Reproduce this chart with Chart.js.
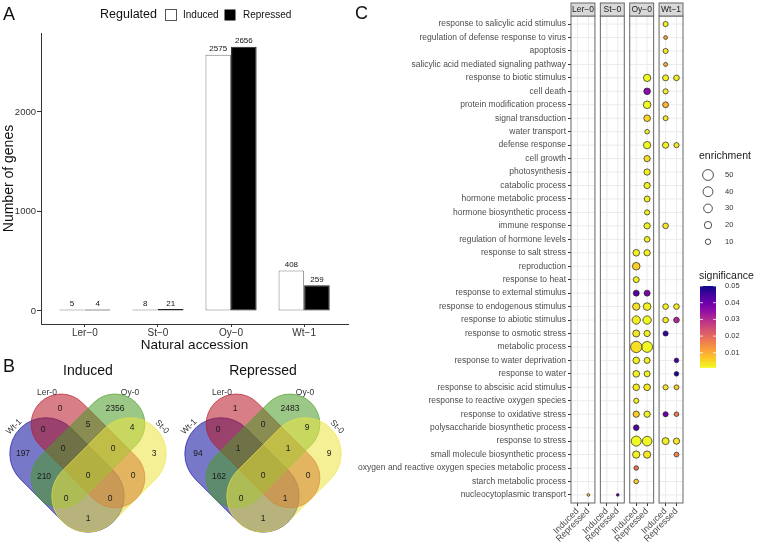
<!DOCTYPE html>
<html>
<head>
<meta charset="utf-8">
<script src="https://cdn.jsdelivr.net/npm/chart.js@4.4.1/dist/chart.umd.min.js"></script>
<style>
  body { margin: 0; background: #fff; }
  #page { position: relative; width: 757px; height: 542px; overflow: hidden; background: #fff; }
  canvas { position: absolute; }
  .tag { position: absolute; font: 18px/18px "Liberation Sans", Arial, sans-serif; color: #111; }
</style>
</head>
<body>
<div id="page">
  <canvas id="barChart" width="355" height="355" style="left:0px;top:0px"></canvas>
  <canvas id="vennInduced" width="176" height="187" style="left:0px;top:355px"></canvas>
  <canvas id="vennRepressed" width="176" height="187" style="left:175px;top:355px"></canvas>
  <canvas id="goChart" width="407" height="542" style="left:350px;top:0px"></canvas>
  <div class="tag" style="left:3px;top:5px">A</div>
  <div class="tag" style="left:3px;top:357px">B</div>
  <div class="tag" style="left:355px;top:4px">C</div>
</div>
<script>
// A: number of regulated genes
const accessions = ["Ler−0", "St−0", "Oy−0", "Wt−1"];
const inducedGenes = [5, 8, 2575, 408];
const repressedGenes = [4, 21, 2656, 259];
const geneTicks = [0, 1000, 2000];

// B: venn counts per region
const vennRegions = ["Ler-0", "Oy-0", "Ler-0∩Oy-0", "Wt-1∩Ler-0", "Oy-0∩St-0", "Wt-1", "Wt-1∩Ler-0∩Oy-0",
  "Ler-0∩Oy-0∩St-0", "St-0", "Wt-1∩Oy-0", "all", "Ler-0∩St-0", "Wt-1∩Oy-0∩St-0", "Wt-1∩Ler-0∩St-0", "Wt-1∩St-0"];
const inducedCounts = [0, 2356, 5, 0, 4, 197, 0, 0, 3, 210, 0, 0, 0, 0, 1];
const repressedCounts = [1, 2483, 0, 0, 9, 94, 1, 1, 9, 162, 0, 0, 0, 1, 1];

// C: GO terms, [term, enrichment, significance]
const terms = [
  "response to salicylic acid stimulus", "regulation of defense response to virus", "apoptosis",
  "salicylic acid mediated signaling pathway", "response to biotic stimulus", "cell death",
  "protein modification process", "signal transduction", "water transport", "defense response",
  "cell growth", "photosynthesis", "catabolic process", "hormone metabolic process",
  "hormone biosynthetic process", "immune response", "regulation of hormone levels",
  "response to salt stress", "reproduction", "response to heat", "response to external stimulus",
  "response to endogenous stimulus", "response to abiotic stimulus", "response to osmotic stress",
  "metabolic process", "response to water deprivation", "response to water",
  "response to abscisic acid stimulus", "response to reactive oxygen species",
  "response to oxidative stress", "polysaccharide biosynthetic process", "response to stress",
  "small molecule biosynthetic process", "oxygen and reactive oxygen species metabolic process",
  "starch metabolic process", "nucleocytoplasmic transport"
];
const facets = ["Ler−0", "St−0", "Oy−0", "Wt−1"];
const regulation = ["Induced", "Repressed"];

const lerInduced = [];
const lerRepressed = [["nucleocytoplasmic transport", 3.3, 0.007]];
const stInduced = [];
const stRepressed = [["nucleocytoplasmic transport", 3.3, 0.042]];
const oyInduced = [
  ["response to salt stress", 16, 0.002], ["reproduction", 22, 0.006], ["response to heat", 12.6, 0.002],
  ["response to external stimulus", 12.6, 0.042], ["response to endogenous stimulus", 20, 0.004],
  ["response to abiotic stimulus", 27, 0.002], ["response to osmotic stress", 18, 0.003],
  ["metabolic process", 55, 0.004], ["response to water deprivation", 16, 0.002],
  ["response to water", 16, 0.002], ["response to abscisic acid stimulus", 16, 0.003],
  ["response to reactive oxygen species", 9, 0.002], ["response to oxidative stress", 14, 0.006],
  ["polysaccharide biosynthetic process", 11, 0.043], ["response to stress", 42, 0.001],
  ["small molecule biosynthetic process", 20, 0.002],
  ["oxygen and reactive oxygen species metabolic process", 7, 0.018], ["starch metabolic process", 7, 0.006]
];
const oyRepressed = [
  ["response to biotic stimulus", 20, 0.001], ["cell death", 16, 0.036], ["protein modification process", 22, 0.001],
  ["signal transduction", 16, 0.005], ["water transport", 7, 0.002], ["defense response", 20, 0.001],
  ["cell growth", 14, 0.004], ["photosynthesis", 14, 0.002], ["catabolic process", 14, 0.002],
  ["hormone metabolic process", 12, 0.002], ["hormone biosynthetic process", 9, 0.002],
  ["immune response", 14, 0.002], ["regulation of hormone levels", 11, 0.002],
  ["response to salt stress", 14, 0.002], ["response to external stimulus", 12.6, 0.038],
  ["response to endogenous stimulus", 22, 0.002], ["response to abiotic stimulus", 27, 0.001],
  ["response to osmotic stress", 14, 0.002], ["metabolic process", 50, 0.001],
  ["response to water deprivation", 12.6, 0.002], ["response to water", 12.6, 0.002],
  ["response to abscisic acid stimulus", 16, 0.003], ["response to oxidative stress", 14, 0.002],
  ["response to stress", 38, 0.001], ["small molecule biosynthetic process", 20, 0.003]
];
const wtInduced = [
  ["response to salicylic acid stimulus", 9, 0.002], ["regulation of defense response to virus", 5, 0.011],
  ["apoptosis", 9, 0.003], ["salicylic acid mediated signaling pathway", 5.5, 0.010],
  ["response to biotic stimulus", 12.6, 0.002], ["cell death", 9, 0.002],
  ["protein modification process", 12, 0.009], ["signal transduction", 8.4, 0.003],
  ["defense response", 14, 0.002], ["immune response", 11, 0.003],
  ["response to endogenous stimulus", 11, 0.002], ["response to abiotic stimulus", 11, 0.003],
  ["response to osmotic stress", 9, 0.046], ["response to abscisic acid stimulus", 9, 0.003],
  ["response to oxidative stress", 9, 0.040], ["response to stress", 18, 0.002]
];
const wtRepressed = [
  ["response to biotic stimulus", 11, 0.002], ["defense response", 9, 0.003],
  ["response to endogenous stimulus", 11, 0.003], ["response to abiotic stimulus", 11, 0.031],
  ["response to water deprivation", 7, 0.044], ["response to water", 7, 0.049],
  ["response to abscisic acid stimulus", 8, 0.006], ["response to oxidative stress", 7, 0.017],
  ["response to stress", 14, 0.003], ["small molecule biosynthetic process", 8, 0.016]
];
const enrichmentBreaks = [50, 40, 30, 20, 10];
const significanceBreaks = [0.05, 0.04, 0.03, 0.02, 0.01];

document.addEventListener("DOMContentLoaded", () => {
  const FONT = '"Liberation Sans", Arial, sans-serif';
  Chart.defaults.font.family = FONT;
  Chart.defaults.animation = false;
  Chart.defaults.devicePixelRatio = 1;
  Chart.defaults.plugins.legend.display = false;
  Chart.defaults.plugins.tooltip.enabled = false;

  // ---------- A ----------
  const barLabels = {
    id: "barLabels",
    afterDatasetsDraw(chart) {
      const ctx = chart.ctx;
      ctx.save();
      ctx.font = `8px ${FONT}`;
      ctx.fillStyle = "#111";
      ctx.textAlign = "center";
      ctx.textBaseline = "bottom";
      chart.data.datasets.forEach((ds, di) => {
        chart.getDatasetMeta(di).data.forEach((bar, i) => {
          ctx.fillText(ds.data[i].y, bar.x, Math.min(bar.y, bar.base) - 1.5);
        });
      });
      ctx.restore();
    }
  };

  const regulatedLegend = {
    id: "regulatedLegend",
    afterDraw(chart) {
      const ctx = chart.ctx;
      ctx.save();
      ctx.textBaseline = "middle";
      ctx.fillStyle = "#111";
      ctx.font = `12.5px ${FONT}`;
      ctx.fillText("Regulated", 100, 15);
      ctx.fillStyle = "#fff";
      ctx.strokeStyle = "#555";
      ctx.lineWidth = 1;
      ctx.fillRect(165.5, 9.5, 11, 11);
      ctx.strokeRect(165.5, 9.5, 11, 11);
      ctx.fillStyle = "#000";
      ctx.fillRect(224.5, 9.5, 11, 11);
      ctx.font = `10px ${FONT}`;
      ctx.fillStyle = "#111";
      ctx.fillText("Induced", 183, 15.5);
      ctx.fillText("Repressed", 243, 15.5);
      ctx.restore();
    }
  };

  new Chart(document.getElementById("barChart"), {
    type: "bar",
    data: {
      datasets: [
        {
          label: "Induced",
          data: inducedGenes.map((v, i) => ({ x: i, y: v })),
          backgroundColor: "#fff",
          borderColor: "#7f7f7f",
          borderWidth: 1,
          borderSkipped: false,
          minBarLength: 1.5,
          categoryPercentage: 0.7,
          barPercentage: 1
        },
        {
          label: "Repressed",
          data: repressedGenes.map((v, i) => ({ x: i, y: v })),
          backgroundColor: "#000",
          borderColor: "#222",
          borderWidth: 1,
          borderSkipped: false,
          minBarLength: 1.5,
          categoryPercentage: 0.7,
          barPercentage: 1
        }
      ]
    },
    options: {
      responsive: false,
      layout: { padding: { top: 33, right: 7, left: 0, bottom: 0 } },
      scales: {
        x: {
          type: "linear",
          offset: false,
          min: -0.6,
          max: 3.6,
          afterBuildTicks: s => { s.ticks = accessions.map((_, i) => ({ value: i })); },
          afterFit: s => { s.height = 31; },
          ticks: { callback: v => accessions[v], font: { size: 10 }, color: "#333", padding: 0, maxRotation: 0, autoSkip: false },
          grid: { offset: false, drawOnChartArea: false, tickLength: 3, color: "#333" },
          border: { color: "#333" },
          title: { display: true, text: "Natural accession", font: { size: 13.5 }, color: "#111", padding: { top: 0, bottom: 2 } }
        },
        y: {
          min: -131,
          max: 2794,
          afterBuildTicks: s => { s.ticks = geneTicks.map(v => ({ value: v })); },
          afterFit: s => { s.width = 41; },
          ticks: { callback: v => String(v), font: { size: 9.5 }, color: "#333", padding: 1 },
          grid: { drawOnChartArea: false, tickLength: 4, color: "#333" },
          border: { color: "#333" },
          title: { display: true, text: "Number of genes", font: { size: 14 }, color: "#111", padding: { top: 1, bottom: 0 } }
        }
      }
    },
    plugins: [barLabels, regulatedLegend]
  });

  // ---------- B ----------
  const vennColors = { "Wt-1": [10, 10, 155], "Ler-0": [182, 20, 37], "Oy-0": [73, 155, 37], "St-0": [237, 228, 64] };
  // outer pair is a bit wider than the inner pair
  const vennShapes = [
    { set: "Wt-1", cx: 67, cy: 95, angle: 45, half: 66, r: 36 },
    { set: "Ler-0", cx: 88, cy: 71, angle: 45, half: 68, r: 30 },
    { set: "Oy-0", cx: 88, cy: 71, angle: -45, half: 68, r: 30 },
    { set: "St-0", cx: 109, cy: 95, angle: -45, half: 66, r: 36 }
  ];
  const setLabels = [
    { set: "Ler-0", x: 47, y: 13, angle: 0 },
    { set: "Oy-0", x: 130, y: 13, angle: 0 },
    { set: "Wt-1", x: 14, y: 47, angle: -45 },
    { set: "St-0", x: 162, y: 47, angle: 45 }
  ];
  // where each region's count sits in the diagram
  const regionSpots = [[60, 29], [115, 29], [88, 45], [43, 50], [132, 48], [23, 74], [63, 69], [113, 69],
    [154, 74], [44, 97], [88, 96], [133, 96], [66, 119], [110, 119], [88, 139]];

  const vennPlugin = {
    id: "venn",
    beforeDatasetsDraw(chart) {
      const { ctx, scales: { x, y } } = chart;
      const k = x.getPixelForValue(1) - x.getPixelForValue(0);
      vennShapes.forEach(sh => {
        const [cr, cg, cb] = vennColors[sh.set];
        const s = (sh.half - sh.r) * k, r = sh.r * k;
        ctx.save();
        ctx.translate(x.getPixelForValue(sh.cx), y.getPixelForValue(sh.cy));
        ctx.rotate(sh.angle * Math.PI / 180);
        ctx.beginPath();
        ctx.arc(-s, 0, r, Math.PI / 2, Math.PI * 1.5);
        ctx.lineTo(s, -r);
        ctx.arc(s, 0, r, -Math.PI / 2, Math.PI / 2);
        ctx.closePath();
        ctx.fillStyle = `rgba(${cr},${cg},${cb},0.55)`;
        ctx.fill();
        ctx.strokeStyle = `rgba(${cr},${cg},${cb},0.75)`;
        ctx.lineWidth = 0.8;
        ctx.stroke();
        ctx.restore();
      });
      ctx.save();
      ctx.font = `8.5px ${FONT}`;
      ctx.fillStyle = "#333";
      ctx.textAlign = "center";
      ctx.textBaseline = "middle";
      setLabels.forEach(l => {
        ctx.save();
        ctx.translate(x.getPixelForValue(l.x), y.getPixelForValue(l.y));
        ctx.rotate(l.angle * Math.PI / 180);
        ctx.fillText(l.set, 0, 0);
        ctx.restore();
      });
      ctx.restore();
    },
    afterDatasetsDraw(chart) {
      const ctx = chart.ctx;
      ctx.save();
      ctx.font = `8.5px ${FONT}`;
      ctx.fillStyle = "#1a1a1a";
      ctx.textAlign = "center";
      ctx.textBaseline = "middle";
      chart.getDatasetMeta(0).data.forEach((pt, i) => {
        ctx.fillText(chart.data.datasets[0].data[i].count, pt.x, pt.y);
      });
      ctx.restore();
    }
  };

  function makeVenn(id, title, counts) {
    new Chart(document.getElementById(id), {
      type: "scatter",
      data: {
        datasets: [{
          label: title,
          data: regionSpots.map(([x, y], i) => ({ x, y, region: vennRegions[i], count: counts[i] })),
          pointRadius: 0
        }]
      },
      options: {
        responsive: false,
        layout: { padding: 0 },
        plugins: {
          title: { display: true, text: title, font: { size: 14, weight: "normal" }, color: "#111", padding: { top: 8, bottom: 0 } }
        },
        scales: {
          x: { type: "linear", min: 0, max: 176, display: false },
          y: { type: "linear", min: 0, max: 162, reverse: true, display: false }
        }
      },
      plugins: [vennPlugin]
    });
  }
  makeVenn("vennInduced", "Induced", inducedCounts);
  makeVenn("vennRepressed", "Repressed", repressedCounts);

  // ---------- C ----------
  const FACET_STEP = 2.7, FACET_WIDTH = 2.2, SLOT_PAD = 0.6;
  const SIG_MIN = 0.001, SIG_MAX = 0.05;
  const plasma = ["#0d0887", "#41049d", "#6a00a8", "#8f0da4", "#b12a90", "#cc4778",
    "#e16462", "#f2844b", "#fca636", "#fcce25", "#f0f921"];
  const hex = h => [1, 3, 5].map(i => parseInt(h.slice(i, i + 2), 16));

  function sigColor(s) {
    const t = Math.min(1, Math.max(0, (SIG_MAX - s) / (SIG_MAX - SIG_MIN))) * (plasma.length - 1);
    const i = Math.min(Math.floor(t), plasma.length - 2), f = t - i;
    const a = hex(plasma[i]), b = hex(plasma[i + 1]);
    return `rgb(${a.map((v, j) => Math.round(v + (b[j] - v) * f)).join(",")})`;
  }
  const bubbleRadius = e => (2 + 9.3 * Math.sqrt(Math.max(e - 3, 0) / 52)) / 2;
  const slotX = k => Math.floor(k / 2) * FACET_STEP + SLOT_PAD + (k % 2);

  const goColumns = [lerInduced, lerRepressed, stInduced, stRepressed, oyInduced, oyRepressed, wtInduced, wtRepressed];

  const facetPanels = {
    id: "facetPanels",
    beforeDatasetsDraw(chart) {
      const { ctx, chartArea: { top, bottom }, scales: { x, y } } = chart;
      ctx.save();
      facets.forEach((name, f) => {
        const x0 = x.getPixelForValue(f * FACET_STEP), x1 = x.getPixelForValue(f * FACET_STEP + FACET_WIDTH);
        ctx.fillStyle = "#fff";
        ctx.fillRect(x0, top, x1 - x0, bottom - top);
        ctx.strokeStyle = "#ebebeb";
        ctx.lineWidth = 1;
        ctx.beginPath();
        terms.forEach((_, i) => {
          const py = y.getPixelForValue(i);
          ctx.moveTo(x0, py);
          ctx.lineTo(x1, py);
        });
        [0, 1].forEach(s => {
          const px = x.getPixelForValue(f * FACET_STEP + SLOT_PAD + s);
          ctx.moveTo(px, top);
          ctx.lineTo(px, bottom);
        });
        ctx.stroke();
        ctx.strokeStyle = "#666";
        ctx.strokeRect(x0, top, x1 - x0, bottom - top);
        ctx.fillStyle = "#d9d9d9";
        ctx.fillRect(x0, top - 13, x1 - x0, 13);
        ctx.strokeRect(x0, top - 13, x1 - x0, 13);
        ctx.fillStyle = "#1a1a1a";
        ctx.font = `8.5px ${FONT}`;
        ctx.textAlign = "center";
        ctx.textBaseline = "middle";
        ctx.fillText(name, (x0 + x1) / 2, top - 6.5);
      });
      ctx.restore();
    }
  };

  const goLegends = {
    id: "goLegends",
    afterDraw(chart) {
      const ctx = chart.ctx;
      ctx.save();
      ctx.textBaseline = "middle";
      ctx.fillStyle = "#1a1a1a";
      ctx.font = `10.5px ${FONT}`;
      ctx.fillText("enrichment", 349, 156);
      ctx.font = `7.5px ${FONT}`;
      enrichmentBreaks.forEach((e, i) => {
        const cy = 175 + i * 16.7;
        ctx.beginPath();
        ctx.arc(358, cy, bubbleRadius(e), 0, Math.PI * 2);
        ctx.fillStyle = "#fff";
        ctx.fill();
        ctx.strokeStyle = "#222";
        ctx.lineWidth = 0.8;
        ctx.stroke();
        ctx.fillStyle = "#333";
        ctx.fillText(e, 375, cy);
      });

      ctx.fillStyle = "#1a1a1a";
      ctx.font = `10.5px ${FONT}`;
      ctx.fillText("significance", 349, 276);
      const yOf = v => 286 + (SIG_MAX - v) * 1670;
      const barTop = yOf(SIG_MAX), barBottom = yOf(SIG_MIN);
      const grad = ctx.createLinearGradient(0, barTop, 0, barBottom);
      for (let i = 0; i <= 20; i++) grad.addColorStop(i / 20, sigColor(SIG_MAX - (SIG_MAX - SIG_MIN) * i / 20));
      ctx.fillStyle = grad;
      ctx.fillRect(350, barTop, 16, barBottom - barTop);
      ctx.strokeStyle = "#fff";
      ctx.lineWidth = 0.8;
      ctx.font = `7.5px ${FONT}`;
      significanceBreaks.forEach(v => {
        const py = yOf(v);
        ctx.beginPath();
        ctx.moveTo(350, py); ctx.lineTo(353, py);
        ctx.moveTo(363, py); ctx.lineTo(366, py);
        ctx.stroke();
        ctx.fillStyle = "#333";
        ctx.fillText(v.toFixed(2), 375, py);
      });
      ctx.restore();
    }
  };

  new Chart(document.getElementById("goChart"), {
    type: "bubble",
    data: {
      datasets: goColumns.map((col, k) => ({
        label: `${facets[Math.floor(k / 2)]} ${regulation[k % 2]}`,
        data: col.map(([term, e, s]) => ({ x: slotX(k), y: terms.indexOf(term), r: bubbleRadius(e), e, s })),
        backgroundColor: c => (c.raw ? sigColor(c.raw.s) : "#ccc"),
        borderColor: "#222",
        borderWidth: 0.7,
        hoverRadius: 0
      }))
    },
    options: {
      responsive: false,
      layout: { padding: { top: 16, right: 74, left: 0, bottom: 0 } },
      scales: {
        x: {
          type: "linear",
          min: 0,
          max: facets.length * FACET_STEP - (FACET_STEP - FACET_WIDTH),
          afterBuildTicks: s => { s.ticks = goColumns.map((_, k) => ({ value: slotX(k) })); },
          afterFit: s => { s.height = 39; },
          ticks: { callback: (v, i) => regulation[i % 2], font: { size: 9 }, color: "#4d4d4d", padding: 0, minRotation: 45, maxRotation: 45, autoSkip: false },
          grid: { drawOnChartArea: false, tickLength: 3, color: "#333" },
          border: { display: false }
        },
        y: {
          type: "linear",
          reverse: true,
          min: -0.6,
          max: terms.length - 0.4,
          afterBuildTicks: s => { s.ticks = terms.map((_, i) => ({ value: i })); },
          afterFit: s => { s.width = 221; },
          ticks: { callback: v => terms[v], font: { size: 8.5 }, color: "#4d4d4d", padding: 2, autoSkip: false },
          grid: { drawOnChartArea: false, tickLength: 3, color: "#333" },
          border: { display: false }
        }
      }
    },
    plugins: [facetPanels, goLegends]
  });
});
</script>
</body>
</html>
